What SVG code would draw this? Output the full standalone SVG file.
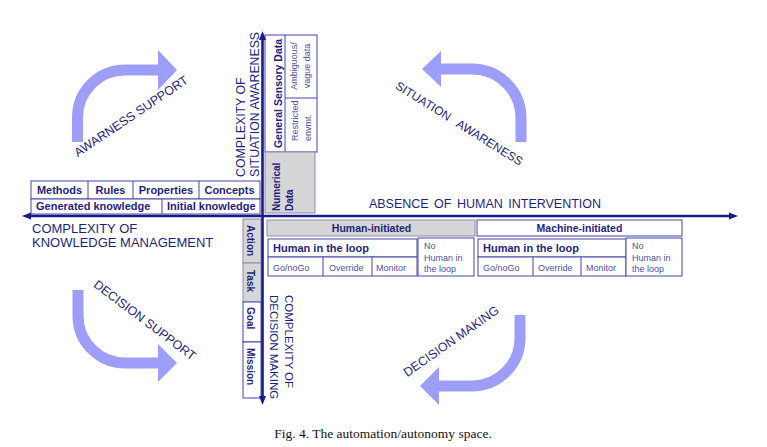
<svg xmlns="http://www.w3.org/2000/svg" width="767" height="447" viewBox="0 0 767 447">
<style>
text{font-family:"Liberation Sans",Arial,sans-serif;fill:#1f1f7a}
.ax{font-size:13px}
.b{font-weight:bold;font-size:11px}
.l{font-size:9px;fill:#5050a0}
.box{fill:#fff;stroke:#4646a6;stroke-width:1}
.gbox{fill:#d6d6d6;stroke:#8a8ab8;stroke-width:1}
.axis{stroke:#1a1a8a;stroke-width:2.6;fill:none}
.big{fill:none;stroke:#9d9dfa;stroke-width:11}
.head{fill:#9d9dfa}
.diag{font-size:12.5px}
</style>
<rect width="767" height="447" fill="#fff"/>

<g id="knowledge-table">
<rect class="box" x="31" y="181" width="229" height="18"/>
<rect class="box" x="31" y="199" width="229" height="15"/>
<line class="box" x1="88" y1="181" x2="88" y2="199"/>
<line class="box" x1="133" y1="181" x2="133" y2="199"/>
<line class="box" x1="199" y1="181" x2="199" y2="199"/>
<line class="box" x1="162" y1="199" x2="162" y2="214"/>
<text class="b" x="59.5" y="194" text-anchor="middle">Methods</text>
<text class="b" x="110.5" y="194" text-anchor="middle">Rules</text>
<text class="b" x="166" y="194" text-anchor="middle">Properties</text>
<text class="b" x="229.5" y="194" text-anchor="middle">Concepts</text>
<text class="b" x="36" y="210">Generated knowledge</text>
<text class="b" x="167" y="210">Initial knowledge</text>
</g>

<g id="situation-table">
<rect class="box" x="265" y="35" width="52" height="117"/>
<line class="box" x1="285" y1="35" x2="285" y2="152"/>
<line class="box" x1="285" y1="98" x2="317" y2="98"/>
<rect class="gbox" x="265" y="152" width="50" height="61"/>
<text class="b" style="font-size:10.5px" transform="translate(282,93.5) rotate(-90)" text-anchor="middle">General Sensory Data</text>
<text class="l" transform="translate(297,66) rotate(-90)" text-anchor="middle">Ambiguous/</text>
<text class="l" transform="translate(310,66) rotate(-90)" text-anchor="middle">vague  data</text>
<text class="l" transform="translate(298,141) rotate(-90)">Restricted</text>
<text class="l" transform="translate(311,141) rotate(-90)">envmt.</text>
<text class="b" style="font-size:10px" transform="translate(280,211) rotate(-90)">Numerical</text>
<text class="b" style="font-size:10px" transform="translate(293,211) rotate(-90)">Data</text>
</g>

<g id="decision-levels">
<rect class="gbox" x="243" y="219" width="18" height="44"/>
<rect class="gbox" x="243" y="263" width="18" height="39"/>
<rect class="box" x="243" y="302" width="18" height="40"/>
<rect class="box" x="243" y="342" width="18" height="56"/>
<text class="b" style="font-size:10px" transform="translate(247,225) rotate(90)">Action</text>
<text class="b" style="font-size:10px" transform="translate(247,270) rotate(90)">Task</text>
<text class="b" style="font-size:10px" transform="translate(247,307) rotate(90)">Goal</text>
<text class="b" style="font-size:10px" transform="translate(247,348) rotate(90)">Mission</text>
</g>

<g id="human-initiated">
<rect class="gbox" x="267" y="220" width="208" height="16"/>
<text class="b" style="font-size:10.5px" x="371.5" y="231.5" text-anchor="middle">Human-initiated</text>
<rect class="box" x="268" y="239" width="149" height="18"/>
<rect class="box" x="268" y="257" width="149" height="19"/>
<line class="box" x1="323" y1="257" x2="323" y2="276"/>
<line class="box" x1="372" y1="257" x2="372" y2="276"/>
<text class="b" x="273" y="252">Human in the loop</text>
<text class="l" x="273" y="271">Go/noGo</text>
<text class="l" x="329" y="271">Override</text>
<text class="l" x="376" y="271">Monitor</text>
<rect class="box" x="418" y="238" width="56" height="38"/>
<text class="l" x="424" y="249">No</text>
<text class="l" x="424" y="261">Human in</text>
<text class="l" x="424" y="272">the loop</text>
</g>

<g id="machine-initiated">
<rect class="box" x="477" y="220" width="205" height="16"/>
<text class="b" style="font-size:10.5px" x="579.5" y="231.5" text-anchor="middle">Machine-initiated</text>
<rect class="box" x="478" y="239" width="148" height="18"/>
<rect class="box" x="478" y="257" width="148" height="19"/>
<line class="box" x1="533" y1="257" x2="533" y2="276"/>
<line class="box" x1="581" y1="257" x2="581" y2="276"/>
<text class="b" x="483" y="252">Human in the loop</text>
<text class="l" x="483" y="271">Go/noGo</text>
<text class="l" x="538" y="271">Override</text>
<text class="l" x="586" y="271">Monitor</text>
<rect class="box" x="626" y="238" width="56" height="38"/>
<text class="l" x="632" y="249">No</text>
<text class="l" x="632" y="261">Human in</text>
<text class="l" x="632" y="272">the loop</text>
</g>

<g id="connectors">
<line class="axis" x1="30" y1="216" x2="730" y2="216"/>
<polygon fill="#1a1a8a" points="22,216 31,212.5 31,219.5"/>
<polygon fill="#1a1a8a" points="738,216 729,212.5 729,219.5"/>
<line class="axis" x1="262.5" y1="40" x2="262.5" y2="396"/>
<polygon fill="#1a1a8a" points="262.5,31 259,40 266,40"/>
<polygon fill="#1a1a8a" points="262.5,405 259,396 266,396"/>
</g>

<g id="axis-labels">
<text class="ax" style="font-size:12.5px;word-spacing:2px" x="485" y="208" text-anchor="middle">ABSENCE OF HUMAN INTERVENTION</text>
<text class="ax" x="32" y="233">COMPLEXITY OF</text>
<text class="ax" x="32" y="247">KNOWLEDGE MANAGEMENT</text>
<text class="ax" style="font-size:12.3px" transform="translate(245,177) rotate(-90)">COMPLEXITY OF</text>
<text class="ax" style="font-size:12.3px" transform="translate(259,177) rotate(-90)">SITUATION AWARENESS</text>
<text class="ax" style="font-size:11.5px" transform="translate(285,295) rotate(90)">COMPLEXITY OF</text>
<text class="ax" style="font-size:11.5px" transform="translate(270,295) rotate(90)">DECISION MAKING</text>
</g>

<g id="awareness-support">
<path class="big" d="M77.5 142 V117.5 A47.5 47.5 0 0 1 125 70 H159"/>
<polygon class="head" points="158,50 177,70 158,90"/>
<text class="diag" text-anchor="middle" transform="translate(133.5,119.7) rotate(-34)">AWARNESS SUPPORT</text>
</g>

<g id="situation-awareness">
<path class="big" d="M521 142 V118 A49 49 0 0 0 472 69 H439"/>
<polygon class="head" points="441,51 422,69 441,87"/>
<text class="diag" style="font-size:12px;word-spacing:6px" text-anchor="middle" transform="translate(457,127) rotate(32)">SITUATION AWARENESS</text>
</g>

<g id="decision-support">
<path class="big" d="M78 290 V316 A47 47 0 0 0 125 363 H159"/>
<polygon class="head" points="158,344 177,363 158,382"/>
<text class="diag" text-anchor="middle" transform="translate(142.3,323.6) rotate(37)">DECISION SUPPORT</text>
</g>

<g id="decision-making">
<path class="big" d="M520 315 V338 A48 48 0 0 1 472 386 H437"/>
<polygon class="head" points="439,367 420,386 439,405"/>
<text class="diag" text-anchor="middle" transform="translate(453.6,344.7) rotate(-35)">DECISION MAKING</text>
</g>

<text x="383" y="438" text-anchor="middle" style="font-family:'Liberation Serif','Times New Roman',serif;font-size:13.5px;fill:#111">Fig. 4.  The automation/autonomy space.</text>
</svg>
